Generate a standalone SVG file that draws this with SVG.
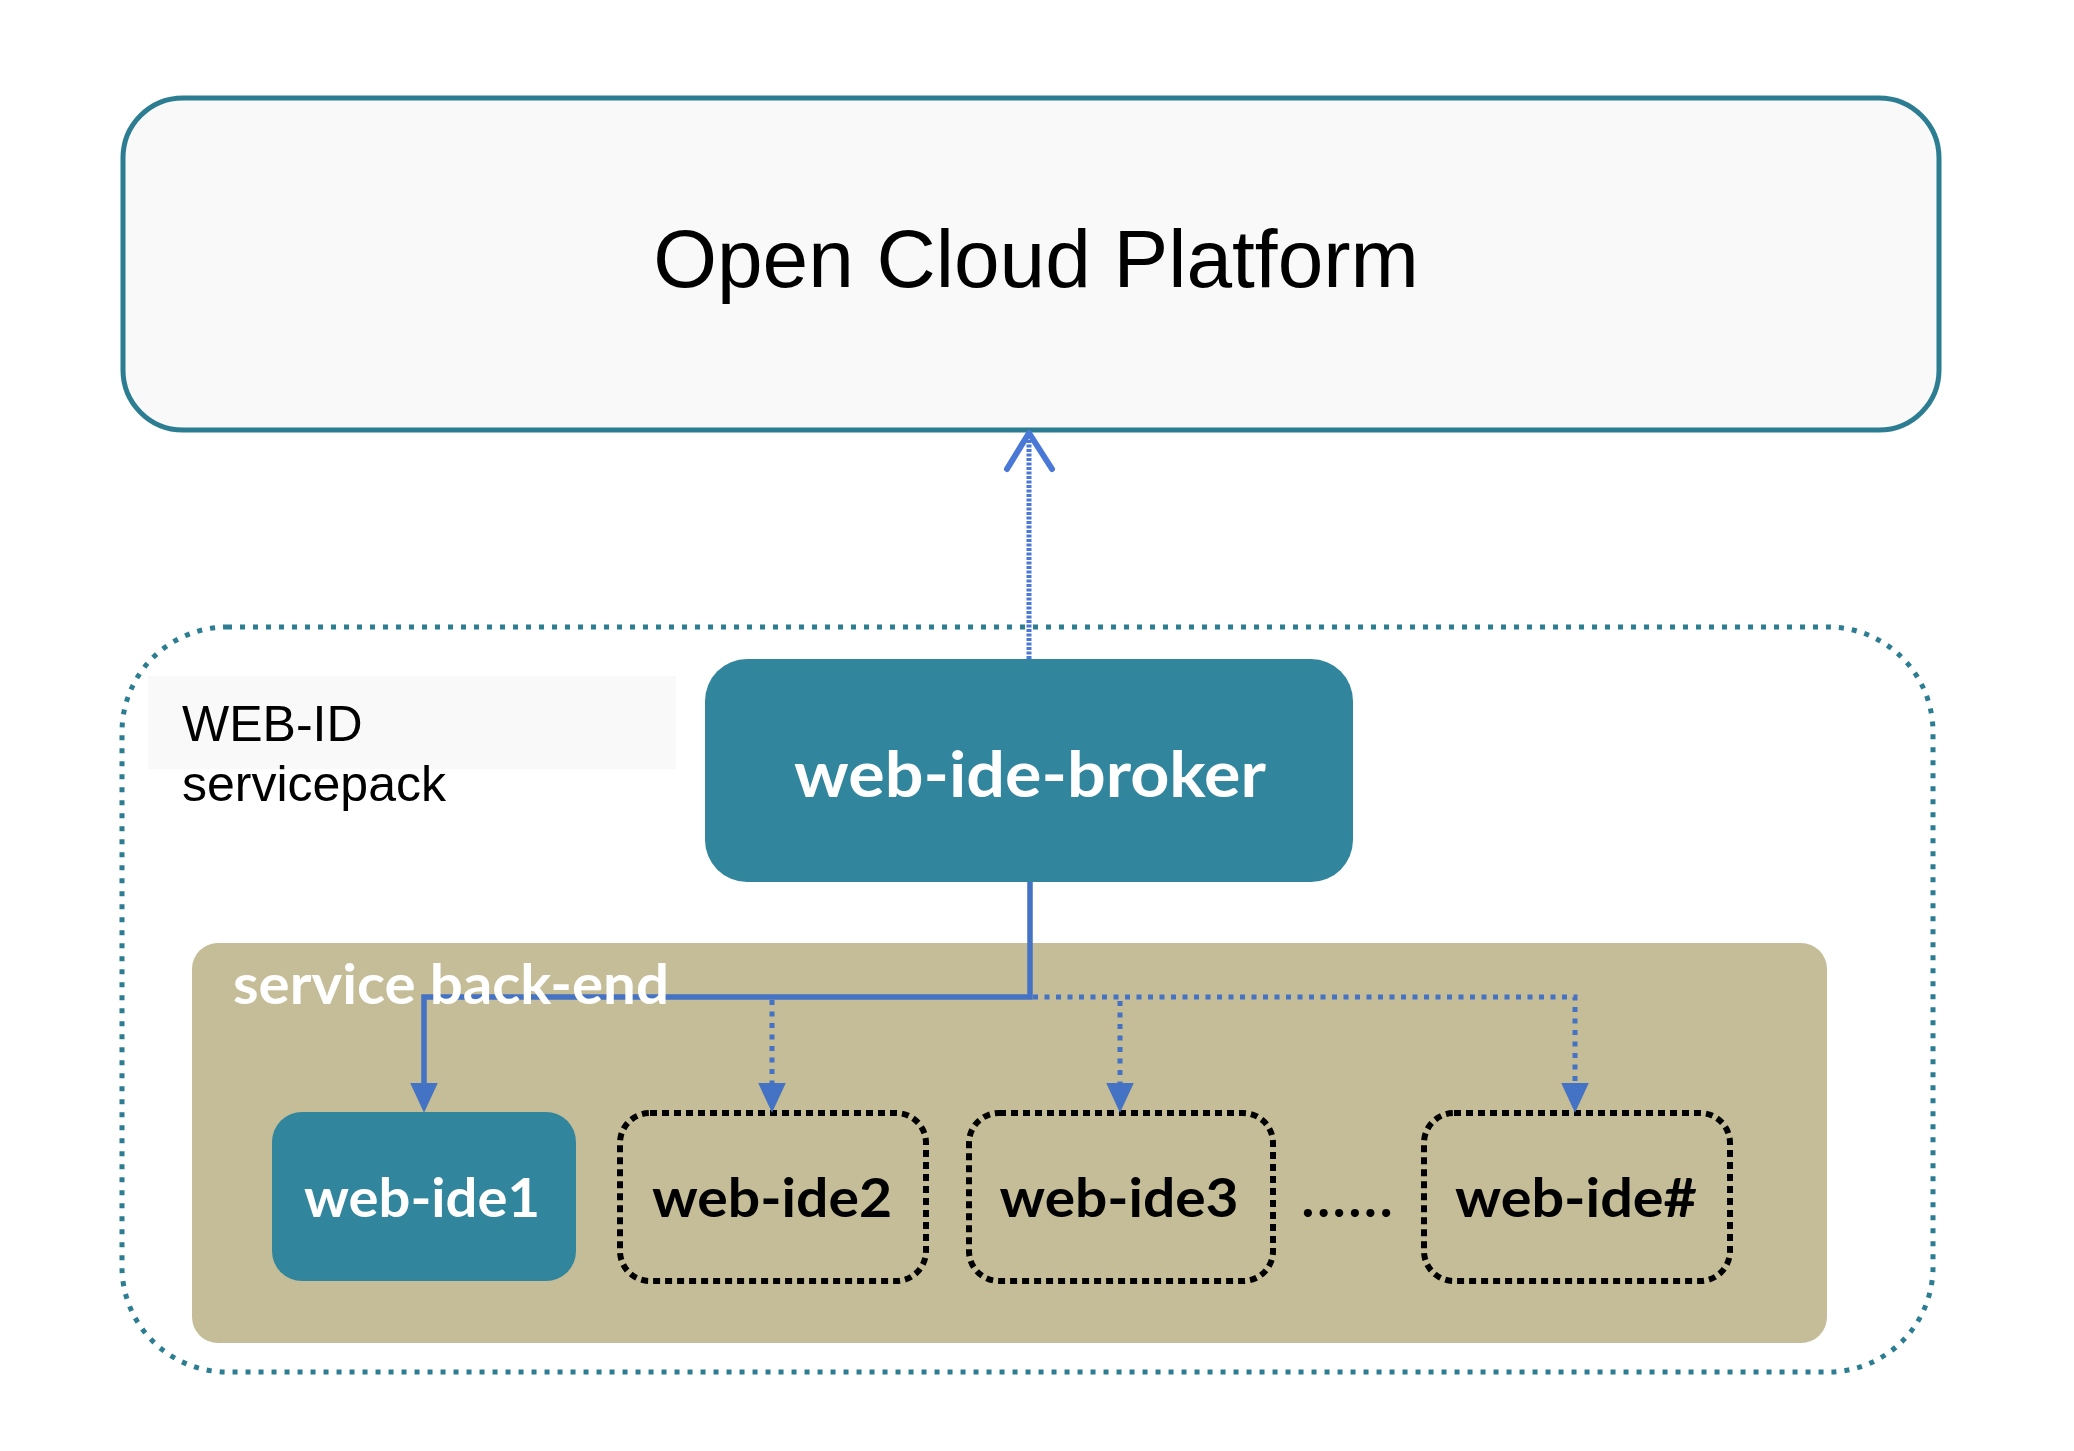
<svg xmlns="http://www.w3.org/2000/svg" width="2074" height="1451" viewBox="0 0 2074 1451">
  <style>
    .plain { font-family: "Liberation Sans", Arial, sans-serif; fill: #000000; }
    .bold { font-family: Lato, "Open Sans", sans-serif; font-weight: 700; }
    .white { fill: #FFFFFF; }
    .black { fill: #000000; }
    .solid-conn { fill: none; stroke: #4472C4; stroke-width: 5.5; }
    .dot-conn { fill: none; stroke: #4472C4; stroke-width: 5; stroke-dasharray: 5 6.5; }
    .ide-dotted { fill: none; stroke: #000000; stroke-width: 6; stroke-dasharray: 7 5; }
  </style>
  <defs>
    <marker id="tri" markerUnits="userSpaceOnUse" markerWidth="30" markerHeight="28" viewBox="0 0 28 26" refX="18" refY="13" orient="auto">
      <path d="M0,0 L28,13 L0,26 Z" fill="#4472C4"/>
    </marker>
  </defs>

  <rect x="0" y="0" width="2074" height="1451" fill="#FFFFFF"/>

  <g id="servicepack-container">
    <rect x="122" y="627" width="1811" height="745" rx="105" ry="105" fill="none" stroke="#2C7D91" stroke-width="5" stroke-dasharray="5 8"/>
  </g>

  <g id="servicepack-label">
    <rect x="148" y="676" width="528" height="93" fill="#F9F9F9"/>
    <text class="plain" x="182" y="741" font-size="50">WEB-ID</text>
    <text class="plain" x="182" y="801" font-size="50">servicepack</text>
  </g>

  <g id="open-cloud-platform">
    <rect x="123" y="98" width="1816" height="332" rx="60" ry="60" fill="#F9F9F9" stroke="#2C7D91" stroke-width="5"/>
    <text class="plain" x="1036" y="287" font-size="82" text-anchor="middle">Open Cloud Platform</text>
  </g>

  <g id="service-back-end">
    <rect x="192" y="943" width="1635" height="400" rx="26" ry="26" fill="#C4BD97"/>
  </g>

  <g id="web-ide-broker">
    <rect x="705" y="659" width="648" height="223" rx="42" ry="42" fill="#31859C"/>
    <text class="bold white" x="1030" y="797" font-size="64" text-anchor="middle" textLength="472" lengthAdjust="spacingAndGlyphs">web-ide-broker</text>
  </g>

  <g id="web-ide1">
    <rect x="272" y="1112" width="304" height="169" rx="30" ry="30" fill="#31859C"/>
    <text class="bold white" x="422" y="1217" font-size="54" text-anchor="middle" textLength="236" lengthAdjust="spacingAndGlyphs">web-ide1</text>
  </g>

  <g id="web-ide2">
    <rect class="ide-dotted" x="620" y="1113" width="306" height="168" rx="30" ry="30"/>
    <text class="bold black" x="772" y="1217" font-size="54" text-anchor="middle" textLength="240" lengthAdjust="spacingAndGlyphs">web-ide2</text>
  </g>

  <g id="web-ide3">
    <rect class="ide-dotted" x="969" y="1113" width="304" height="168" rx="30" ry="30"/>
    <text class="bold black" x="1119" y="1217" font-size="54" text-anchor="middle" textLength="239" lengthAdjust="spacingAndGlyphs">web-ide3</text>
  </g>

  <g id="ellipsis">
    <text class="bold black" x="1347" y="1217" font-size="54" text-anchor="middle" textLength="91" lengthAdjust="spacing">......</text>
  </g>

  <g id="web-ide-n">
    <rect class="ide-dotted" x="1424" y="1113" width="306" height="168" rx="30" ry="30"/>
    <text class="bold black" x="1576" y="1217" font-size="54" text-anchor="middle" textLength="242" lengthAdjust="spacingAndGlyphs">web-ide#</text>
  </g>

  <g id="connectors">
    <!-- broker to Open Cloud Platform -->
    <line x1="1029" y1="659" x2="1029" y2="437" stroke="#4A78D6" stroke-width="5" stroke-dasharray="3 1.5"/>
    <polyline points="1007,469 1029,433 1052,469" fill="none" stroke="#4A78D6" stroke-width="6" stroke-linecap="round" stroke-linejoin="round"/>
    <!-- broker to web-ide1 (solid) -->
    <polyline class="solid-conn" points="1030,882 1030,997 424,997 424,1102" marker-end="url(#tri)"/>
    <!-- broker to web-ide2 (dotted) -->
    <line class="dot-conn" x1="772" y1="1000" x2="772" y2="1102" marker-end="url(#tri)"/>
    <!-- dotted branch to the right -->
    <polyline class="dot-conn" points="1033,997 1575,997 1575,1102" marker-end="url(#tri)"/>
    <line class="dot-conn" x1="1120" y1="1001" x2="1120" y2="1102" marker-end="url(#tri)"/>
  </g>

  <g id="service-back-end-label">
    <text class="bold white" x="233" y="1004" font-size="55" textLength="436" lengthAdjust="spacingAndGlyphs">service back-end</text>
  </g>
</svg>
